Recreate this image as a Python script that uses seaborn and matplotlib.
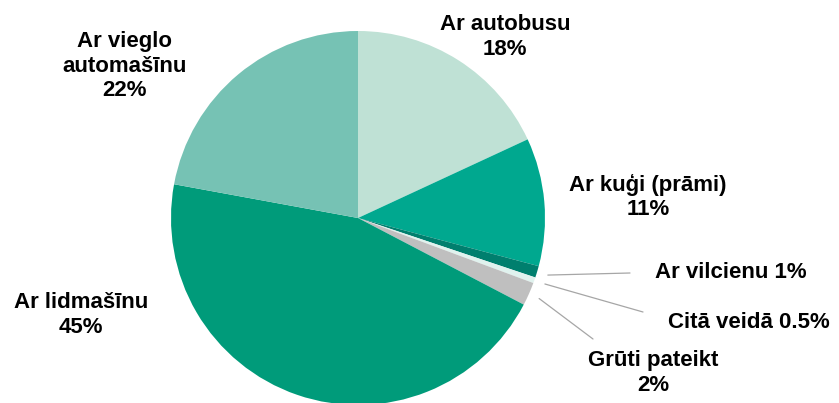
import numpy as np
import matplotlib.pyplot as plt
import seaborn as sns

# Travel mode shares (%), clockwise from the top
labels = ['Ar autobusu', 'Ar kuģi (prāmi)', 'Ar vilcienu', 'Citā veidā',
          'Grūti pateikt', 'Ar lidmašīnu', 'Ar vieglo\nautomašīnu']
values = [18, 11, 1, 0.5, 2, 45, 22]
pct_text = ['18%', '11%', '1%', '0.5%', '2%', '45%', '22%']
colors = ['#BFE1D5', '#00A88F', '#007F6E', '#E0F2EE', '#BFBFBF', '#009B7A', '#76C2B4']

sns.set_style('white')
plt.rcParams['font.family'] = ['Liberation Sans', 'DejaVu Sans']

W, H = 839, 403
cx, cy, R = 358, 218, 187
fig = plt.figure(figsize=(W / 100, H / 100), dpi=100)
ax = fig.add_axes([(cx - R) / W, (H - cy - R) / H, 2 * R / W, 2 * R / H])

wedges, _ = ax.pie(values, colors=colors, startangle=90, counterclock=False,
                   radius=1, wedgeprops=dict(linewidth=0))
ax.set_xlim(-1, 1)
ax.set_ylim(-1, 1)
ax.set_aspect('equal')
ax.axis('off')


def px(x, y):
    # pixel position -> data coords of the pie axes
    return (x - cx) / R, (cy - y) / R


# label centres (pixels) and leader line ends
label_pos = [(505, 37), (648, 197), (731, 272), (749, 322), (653, 373), (81, 315), (125, 66)]
leader_end = {2: (630, 273), 3: (643, 312), 4: (593, 339)}
inline = {2, 3}

for i, w in enumerate(wedges):
    if i in inline:
        txt = f'{labels[i]} {pct_text[i]}'
    else:
        txt = f'{labels[i]}\n{pct_text[i]}'
    x, y = px(*label_pos[i])
    ax.text(x, y, txt, ha='center', va='center', fontsize=16, fontweight='bold',
            linespacing=1.22, color='black', clip_on=False)
    if i in leader_end:
        ang = np.deg2rad((w.theta1 + w.theta2) / 2)
        x0, y0 = 1.06 * np.cos(ang), 1.06 * np.sin(ang)
        x1, y1 = px(*leader_end[i])
        ax.plot([x0, x1], [y0, y1], color='#A6A6A6', lw=0.9, clip_on=False)

fig.savefig('out.png', dpi=100)
